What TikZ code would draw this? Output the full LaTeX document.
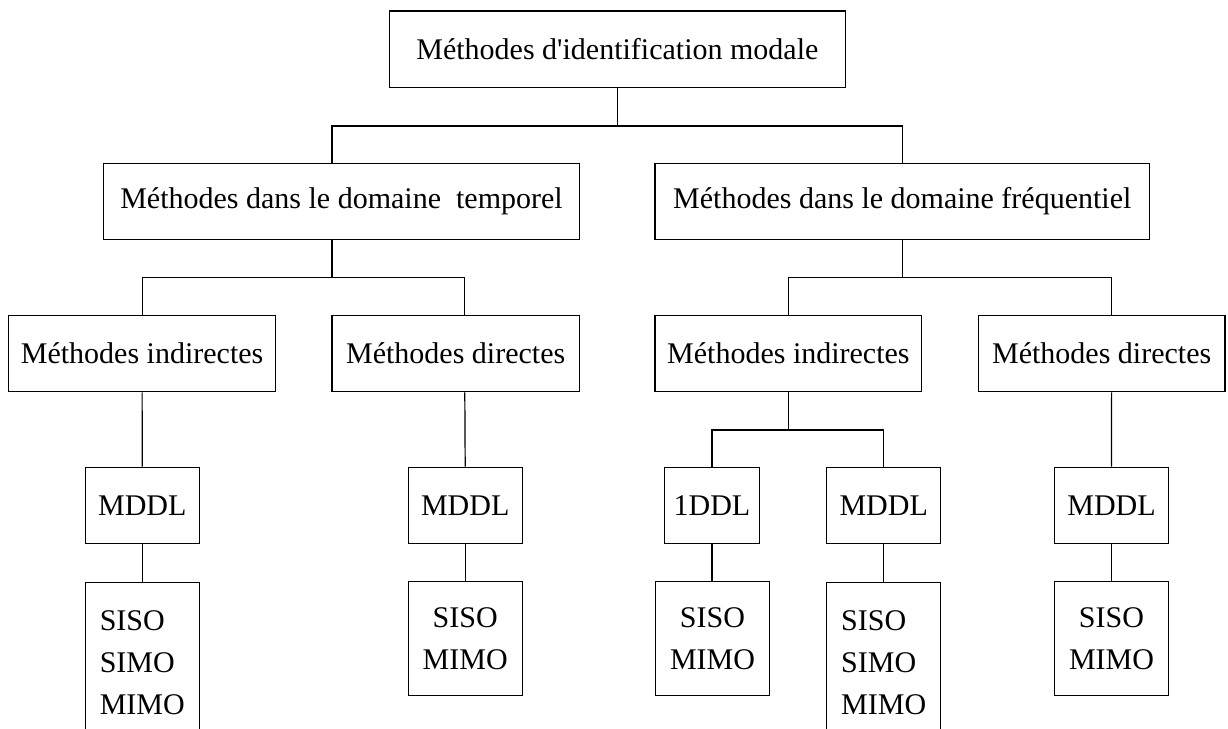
\documentclass[tikz,border=0pt]{standalone}
\usepackage{fontspec}
\setmainfont{Liberation Serif}
\tikzset{
	boite/.style={draw, line width=0.6pt, inner sep=0pt,
		font=\fontsize{15}{21}\selectfont, align=center},
	lien/.style={line width=0.6pt}
}

\begin{document}
\begin{tikzpicture}[x=0.5pt,y=-0.5pt]
	\useasboundingbox (0,0) rectangle (1228,729);
	\clip (0,0) rectangle (1228,729);
	\node[boite,minimum width=228.1pt,minimum height=38.15pt] (methodes) at (617.4,49.2)
	{Méthodes d\textquotesingle identification modale};
	\node[boite,minimum width=237.9pt,minimum height=38pt] (temp) at (341.5,201.3)
	{Méthodes dans le domaine\ \ temporel};
	\node[boite,minimum width=247.25pt,minimum height=38pt] (freq) at (902.3,201.3)
	{Méthodes dans le domaine fréquentiel};
	\node[boite,minimum width=133.4pt,minimum height=38.2pt] (tind) at (142.1,353.5) {Méthodes indirectes};
	\node[boite,minimum width=123.7pt,minimum height=38.2pt] (tdir) at (455.7,353.5) {Méthodes directes};
	\node[boite,minimum width=133.4pt,minimum height=38.2pt] (find) at (788.4,353.5) {Méthodes indirectes};
	\node[boite,minimum width=123.3pt,minimum height=38.2pt] (fdir) at (1101.7,353.5) {Méthodes directes};
	\node[boite,minimum width=56.9pt,minimum height=38pt] (tmddl) at (142.3,505.3) {MDDL};
	\node[boite,minimum width=56.9pt,minimum height=38pt] (tdmddl) at (465.2,505.3) {MDDL};
	\node[boite,minimum width=47.45pt,minimum height=38pt] (fun) at (712,505.3) {1DDL};
	\node[boite,minimum width=57.1pt,minimum height=38pt] (fmddl) at (883.7,505.3) {MDDL};
	\node[boite,minimum width=57pt,minimum height=38pt] (fdmddl) at (1111.5,505.3) {MDDL};
	\node[boite,align=left,anchor=north,minimum width=56.9pt,minimum height=80pt] (tsm) at (142.3,581.7)
	{SISO\\SIMO\\MIMO};
	\node[boite,minimum width=56.9pt,minimum height=56.8pt] (tdsm) at (465.2,638.5) {SISO\\MIMO};
	\node[boite,minimum width=57.15pt,minimum height=56.8pt] (funsm) at (712.5,638.5) {SISO\\MIMO};
	\node[boite,align=left,anchor=north,minimum width=57.1pt,minimum height=80pt] (fmsm) at (883.7,581.7)
	{SISO\\SIMO\\MIMO};
	\node[boite,minimum width=57pt,minimum height=56.8pt] (fdsm) at (1111.5,638.5) {SISO\\MIMO};
	\draw[lien] (methodes.south) -- ++(0,38) -| ([xshift=-4.75pt]temp.north);
	\draw[lien] (methodes.south) -- ++(0,38) -| (freq.north);
	\draw[lien] ([xshift=-4.75pt]temp.south) -- ++(0,37.7) -| (tind.north);
	\draw[lien] ([xshift=-4.75pt]temp.south) -- ++(0,37.7) -| ([xshift=4.55pt]tdir.north);
	\draw[lien] (freq.south) -- ++(0,37.7) -| (find.north);
	\draw[lien] (freq.south) -- ++(0,37.7) -| ([xshift=4.95pt]fdir.north);
	\draw[lien] (tind.south) -- (tmddl.north);
	\draw[lien] ([xshift=4.55pt]tdir.south) -- (tdmddl.north);
	\draw[lien] (find.south) -- ++(0,37.6) -| (fun.north);
	\draw[lien] (find.south) -- ++(0,37.6) -| (fmddl.north);
	\draw[lien] ([xshift=4.95pt]fdir.south) -- (fdmddl.north);
	\draw[lien] (tmddl.south) -- (tsm.north);
	\draw[lien] (tdmddl.south) -- (tdsm.north);
	\draw[lien] (fun.south) -- (fun.south |- funsm.north);
	\draw[lien] (fmddl.south) -- (fmsm.north);
	\draw[lien] (fdmddl.south) -- (fdsm.north);
\end{tikzpicture}
\end{document}
